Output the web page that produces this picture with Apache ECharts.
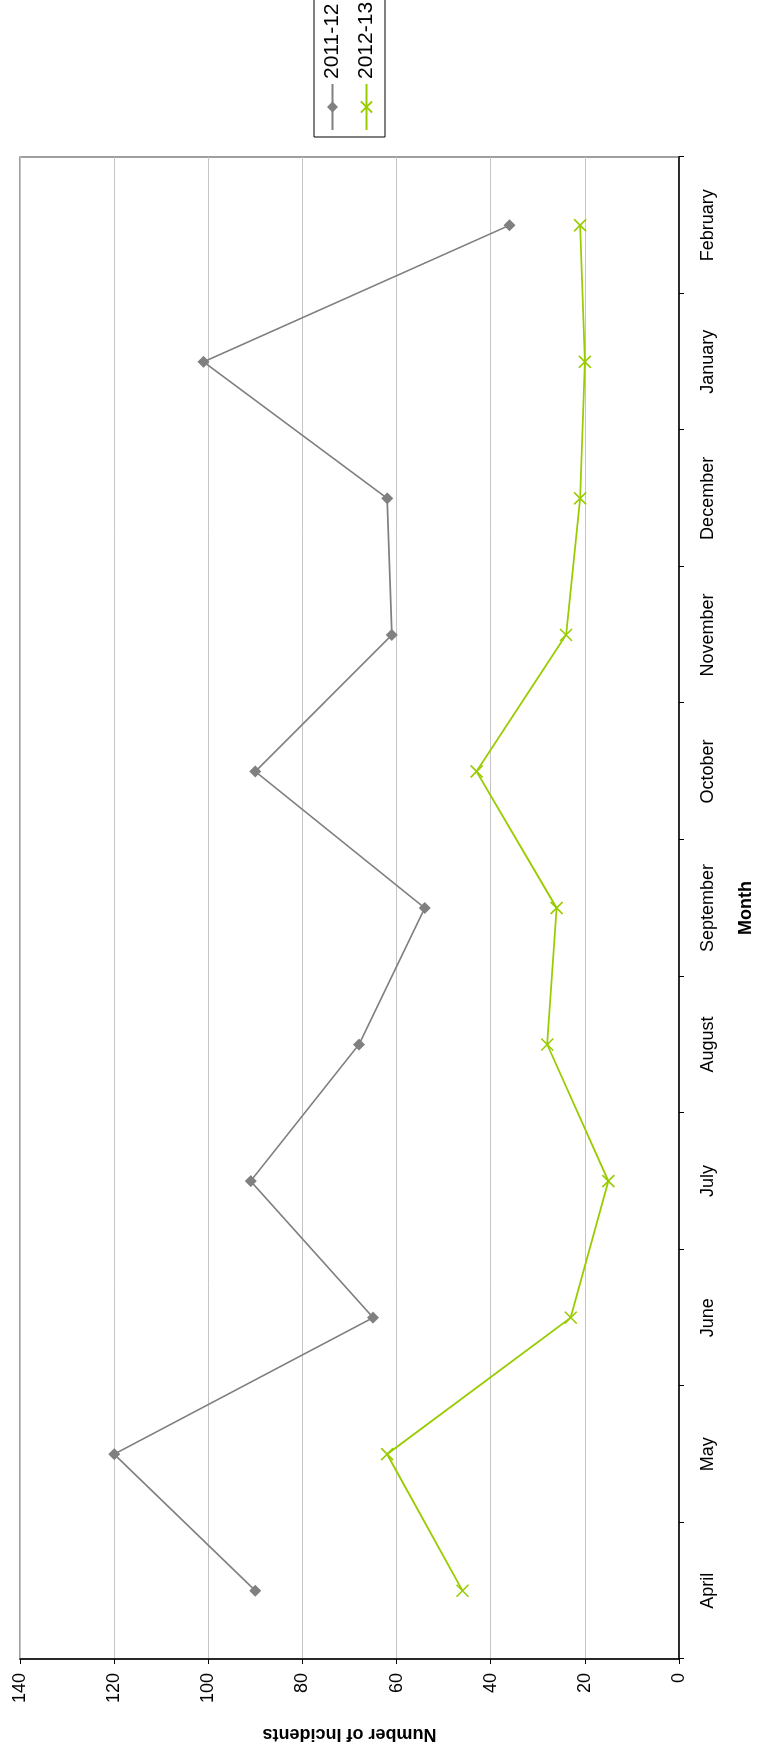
<!DOCTYPE html>
<html>
<head>
<meta charset="utf-8">
<script src="https://cdn.jsdelivr.net/npm/echarts@6/dist/echarts.min.js"></script>
<style>
html,body{margin:0;padding:0;overflow:hidden;background:#fff;width:760px;height:1752px;}
#wrap{position:absolute;left:0;top:0;width:760px;height:1752px;overflow:hidden;}
#chart{position:absolute;left:0;top:0;width:1752px;height:760px;transform-origin:0 0;transform:translateY(1752px) rotate(-90deg);}
</style>
</head>
<body>
<div id="wrap"><div id="chart"></div></div>
<script>
const months = ['April','May','June','July','August','September','October','November','December','January','February'];
const series2011 = [90,120,65,91,68,54,90,61,62,101,36];
const series2012 = [46,62,23,15,28,26,43,24,21,20,21];
const valueTicks = [0,20,40,60,80,100,120,140];

const FONT = 'Liberation Sans, Arial, sans-serif';
const chart = echarts.init(document.getElementById('chart'), null, {renderer:'canvas'});
chart.setOption({
  animation:false,
  backgroundColor:'#fff',
  textStyle:{fontFamily:FONT},
  grid:{left:93,right:157,top:20,bottom:80,show:true,borderColor:'#808080',borderWidth:1.5,containLabel:false},
  legend:{
    left:1615, top:314, orient:'vertical',
    padding:[8,24,8,6], itemGap:13, itemWidth:46, itemHeight:14,
    borderColor:'#000', borderWidth:1, backgroundColor:'#fff',
    textStyle:{fontSize:21,color:'#000',fontFamily:FONT},
    data:['2011-12','2012-13']
  },
  xAxis:{
    type:'category', data:months, boundaryGap:true,
    name:'Month', nameLocation:'middle', nameGap:58,
    nameTextStyle:{fontSize:18,fontWeight:'bold',color:'#000',fontFamily:FONT},
    axisLine:{show:true,lineStyle:{color:'#000',width:1.5}},
    axisTick:{show:true,interval:0,length:5,inside:false,lineStyle:{color:'#000'}},
    axisLabel:{interval:0,fontSize:18,color:'#000',margin:20,fontFamily:FONT},
    splitLine:{show:false}
  },
  yAxis:{
    type:'value', min:valueTicks[0], max:valueTicks[valueTicks.length-1], interval:20,
    name:'Number of Incidents', nameLocation:'middle', nameGap:66, nameRotate:90,
    nameTextStyle:{fontSize:18,fontWeight:'bold',color:'#000',fontFamily:FONT},
    axisLine:{show:true,lineStyle:{color:'#000',width:1.5}},
    axisTick:{show:true,length:5,inside:false,lineStyle:{color:'#000'}},
    axisLabel:{fontSize:18,color:'#000',margin:14,fontFamily:FONT},
    splitLine:{show:true,lineStyle:{color:'#c4c4c4',width:1}}
  },
  series:[
    {
      name:'2011-12', type:'line', data:series2011,
      symbol:'diamond', symbolSize:[12,12],
      lineStyle:{color:'#808080',width:1.6},
      itemStyle:{color:'#808080'}
    },
    {
      name:'2012-13', type:'line', data:series2012,
      symbol:'path://M0,0L10,10M10,0L0,10', symbolSize:[12,12],
      lineStyle:{color:'#99cc00',width:1.8},
      itemStyle:{color:'none',borderColor:'#99cc00',borderWidth:1.6}
    }
  ]
});
</script>
</body>
</html>
